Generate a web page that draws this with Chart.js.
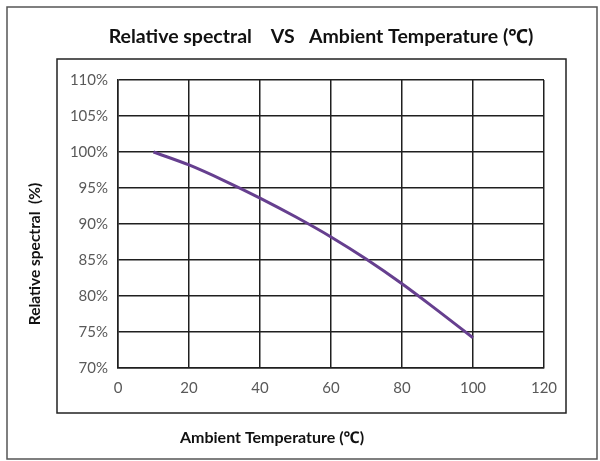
<!DOCTYPE html>
<html>
<head>
<meta charset="utf-8">
<script src="https://cdn.jsdelivr.net/npm/chart.js@4"></script>
<style>
  html, body { margin: 0; padding: 0; background: #fff; }
  #wrap { width: 600px; height: 461px; }
</style>
</head>
<body>
<div id="wrap"><canvas id="grafico" width="600" height="461"></canvas></div>
<script>
// valores
const temperaturas = [10, 20, 30, 40, 50, 60, 70, 80, 90, 100];
const relativo = [100, 98.2, 96.0, 93.6, 91.0, 88.2, 85.1, 81.7, 78.0, 74.2];

const tituloPrincipal = 'Relative spectral    VS   Ambient Temperature (\u2103)';
const tituloX = 'Ambient Temperature (\u2103)';
const tituloY = 'Relative spectral  (%)';

const fonte = 'Lato, "Noto Sans", "DejaVu Sans", sans-serif';

const molduras = {
    id: 'molduras',
    beforeDraw(chart) {
        const ctx = chart.ctx;
        ctx.save();
        ctx.fillStyle = '#fff';
        ctx.fillRect(0, 0, chart.width, chart.height);
        ctx.strokeStyle = '#555';
        ctx.lineWidth = 1.5;
        ctx.strokeRect(7, 7, 590, 452);
        ctx.strokeStyle = '#222';
        ctx.strokeRect(57, 59, 509, 354);
        ctx.restore();
    },
    afterDraw(chart) {
        const ctx = chart.ctx;
        ctx.save();
        ctx.fillStyle = '#111';
        ctx.textAlign = 'center';
        ctx.textBaseline = 'middle';
        ctx.font = 'bold 19.5px ' + fonte;
        ctx.fillText(tituloPrincipal, 321, 37);
        ctx.font = 'bold 16px ' + fonte;
        ctx.fillText(tituloX, 272, 438);
        ctx.translate(35, 254);
        ctx.rotate(-Math.PI / 2);
        ctx.font = 'bold 15.5px ' + fonte;
        ctx.fillText(tituloY, 0, 0);
        ctx.restore();
    }
};

new Chart(document.getElementById('grafico'), {
    type: 'line',
    data: {
        datasets: [{
            data: temperaturas.map((t, i) => ({ x: t, y: relativo[i] })),
            borderColor: '#663f8f',
            borderWidth: 3,
            pointRadius: 0,
            tension: 0.4,
            cubicInterpolationMode: 'monotone',
            fill: false
        }]
    },
    options: {
        responsive: false,
        animation: false,
        layout: { padding: { left: 0, top: 80, right: 56, bottom: 0 } },
        plugins: {
            legend: { display: false },
            title: { display: false },
            tooltip: { enabled: false }
        },
        scales: {
            x: {
                type: 'linear',
                min: 0,
                max: 120,
                afterFit: (s) => { s.height = 93; },
                ticks: {
                    stepSize: 20,
                    padding: 11,
                    color: '#595959',
                    font: { family: fonte, size: 15 }
                },
                grid: { color: '#1f1f1f', lineWidth: 1.5, drawTicks: false },
                border: { color: '#1f1f1f', width: 1.5 }
            },
            y: {
                min: 70,
                max: 110,
                afterFit: (s) => { s.width = 118; },
                ticks: {
                    stepSize: 5,
                    padding: 10,
                    color: '#595959',
                    font: { family: fonte, size: 15 },
                    callback: (v) => v + '%'
                },
                grid: { color: '#1f1f1f', lineWidth: 1.5, drawTicks: false },
                border: { color: '#1f1f1f', width: 1.5 }
            }
        }
    },
    plugins: [molduras]
});
</script>
</body>
</html>
